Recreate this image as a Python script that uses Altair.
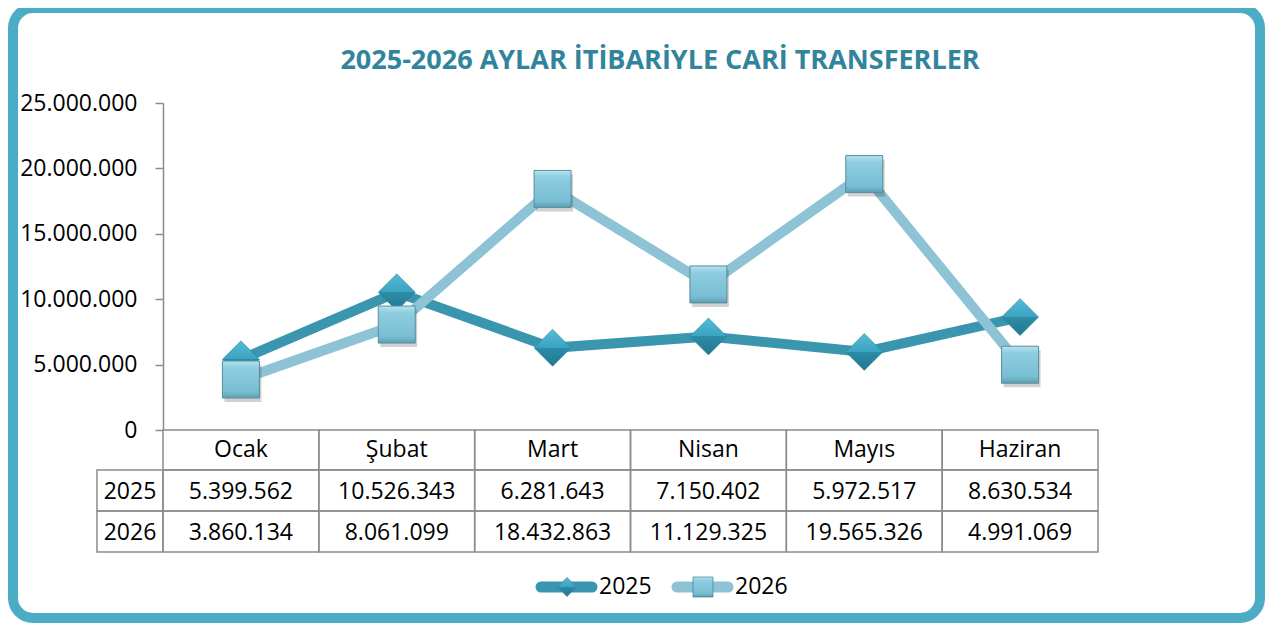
import altair as alt
import pandas as pd

# ---------------- data ----------------
months = ["Ocak", "Şubat", "Mart", "Nisan", "Mayıs", "Haziran"]
years = ["2025", "2026"]
values_2025 = [5399562, 10526343, 6281643, 7150402, 5972517, 8630534]
values_2026 = [3860134, 8061099, 18432863, 11129325, 19565326, 4991069]
y_ticks = [0, 5000000, 10000000, 15000000, 20000000, 25000000]
title_text = ["2025-2026 AYLAR İTİBARİYLE CARİ TRANSFERLER"]


def tr(v):
    return f"{v:,}".replace(",", ".")


rows = []
for yr, vals in zip(years, [values_2025, values_2026]):
    for m, v in zip(months, vals):
        rows.append({"month": m, "year": yr, "value": v, "label": tr(v)})
df = pd.DataFrame(rows)
df_months = pd.DataFrame({"month": months})

# ---------------- style ----------------
W, H = 935, 327
FONT = "Open Sans"
C_FRAME = "#4BACC6"
C_TITLE = "#31849B"
C25 = "#3A96AF"
C26 = "#8DC3D5"
GRID = "#8C8C8C"
ROW_H = [40, 41, 41]

xscale = alt.Scale(type="band", domain=months, paddingInner=0, paddingOuter=0)


def xb():
    return alt.X("month:N", sort=months, scale=xscale, axis=None, bandPosition=0.5)


def xr():
    return alt.X("month:N", sort=months, scale=xscale, axis=None)


yaxis = alt.Axis(
    values=y_ticks,
    labelExpr="replace(replace(format(datum.value, ','), ',', '.'), ',', '.')",
    labelFont=FONT, labelFontSize=23, labelColor="#000000", labelPadding=18,
    domainColor=GRID, domainWidth=1.5, tickColor=GRID, tickWidth=1.5, tickSize=8,
    grid=False, title=None,
)
yscale = alt.Scale(domain=[0, 25000000], nice=False, zero=True)


def yq():
    return alt.Y("value:Q", scale=yscale, axis=yaxis)


layers = []

# frame
layers.append(
    alt.Chart(pd.DataFrame({"k": [0]})).mark_rect(
        fillOpacity=0, stroke=C_FRAME, strokeWidth=10, cornerRadius=20
    ).encode(x=alt.value(-150), x2=alt.value(1097), y=alt.value(-95), y2=alt.value(515))
)

# title
layers.append(
    alt.Chart(pd.DataFrame({"t": title_text})).mark_text(
        font=FONT, fontSize=27, fontWeight="bold", color=C_TITLE,
        align="center", baseline="alphabetic"
    ).encode(text="t:N", x=alt.value(497), y=alt.value(-34))
)

# table grid
y0 = H
layers.append(
    alt.Chart(df_months).mark_rect(fillOpacity=0, stroke=GRID, strokeWidth=1.5)
    .encode(x=xr(), y=alt.value(y0), y2=alt.value(y0 + ROW_H[0]))
)
layers.append(
    alt.Chart(df_months).mark_text(font=FONT, fontSize=23, color="#000000", baseline="middle")
    .encode(x=xb(), y=alt.value(y0 + ROW_H[0] / 2), text="month:N")
)
top = y0 + ROW_H[0]
for i, yr in enumerate(years):
    h = ROW_H[i + 1]
    sub = alt.Chart(df).transform_filter(alt.datum.year == yr)
    layers.append(
        sub.mark_rect(fillOpacity=0, stroke=GRID, strokeWidth=1.5)
        .encode(x=xr(), y=alt.value(top), y2=alt.value(top + h))
    )
    layers.append(
        sub.mark_text(font=FONT, fontSize=23, color="#000000", baseline="middle")
        .encode(x=xb(), y=alt.value(top + h / 2 + 1), text="label:N")
    )
    ydf = pd.DataFrame({"year": [yr]})
    layers.append(
        alt.Chart(ydf).mark_rect(fillOpacity=0, stroke=GRID, strokeWidth=1.5)
        .encode(x=alt.value(-66), x2=alt.value(0), y=alt.value(top), y2=alt.value(top + h))
    )
    layers.append(
        alt.Chart(ydf).mark_text(font=FONT, fontSize=23, color="#000000", baseline="middle")
        .encode(x=alt.value(-33), y=alt.value(top + h / 2 + 1), text="year:N")
    )
    top += h

# lines
layers.append(
    alt.Chart(df).transform_filter(alt.datum.year == "2025")
    .mark_line(color=C25, strokeWidth=10)
    .encode(x=xb(), y=yq())
)
layers.append(
    alt.Chart(df).transform_filter(alt.datum.year == "2026")
    .mark_line(color=C26, strokeWidth=10)
    .encode(x=xb(), y=yq())
)

grad_d = alt.LinearGradient(
    gradient="linear", x1=0, x2=0, y1=0, y2=1,
    stops=[
        alt.GradientStop(color="#55BCD7", offset=0),
        alt.GradientStop(color="#3AA3C0", offset=0.5),
        alt.GradientStop(color="#2C8CA8", offset=0.5),
        alt.GradientStop(color="#23778F", offset=1),
    ],
)
grad_s = alt.LinearGradient(
    gradient="linear", x1=0, x2=0, y1=0, y2=1,
    stops=[
        alt.GradientStop(color="#B5E4F1", offset=0),
        alt.GradientStop(color="#8FCDE0", offset=0.18),
        alt.GradientStop(color="#78BED3", offset=0.82),
        alt.GradientStop(color="#5E9FB2", offset=1),
    ],
)

# markers
layers.append(
    alt.Chart(df).transform_filter(alt.datum.year == "2025")
    .mark_point(shape="diamond", size=1369, filled=True, fill=grad_d, opacity=1,
                stroke="#2A7F98", strokeWidth=0.5)
    .encode(x=xb(), y=yq())
)
layers.append(
    alt.Chart(df).transform_filter(alt.datum.year == "2026")
    .mark_point(shape="square", size=1369, filled=True, color="#000000", opacity=0.18,
                xOffset=2, yOffset=4)
    .encode(x=xb(), y=yq())
)
layers.append(
    alt.Chart(df).transform_filter(alt.datum.year == "2026")
    .mark_point(shape="square", size=1369, filled=True, fill=grad_s, opacity=1,
                stroke="#5A8C9C", strokeWidth=1)
    .encode(x=xb(), y=yq())
)

# legend
LEG_Y = 484
leg = [("2025", C25, "diamond", 361, grad_d, 378, 429, 404, 436),
       ("2026", C26, "square", 400, grad_s, 514, 565, 540, 572)]
for name, col, shp, sz, gr, xa, xz, xm, xt in leg:
    ld = pd.DataFrame({"year": [name]})
    layers.append(
        alt.Chart(ld).mark_rule(color=col, strokeWidth=11, strokeCap="round")
        .encode(x=alt.value(xa), x2=alt.value(xz), y=alt.value(LEG_Y))
    )
    layers.append(
        alt.Chart(ld).mark_point(shape=shp, size=sz, filled=True, fill=gr, opacity=1,
                                 stroke="#3E7F92", strokeWidth=0.7)
        .encode(x=alt.value(xm), y=alt.value(LEG_Y))
    )
    layers.append(
        alt.Chart(ld).mark_text(font=FONT, fontSize=23, color="#000000",
                                align="left", baseline="middle")
        .encode(x=alt.value(xt), y=alt.value(LEG_Y), text="year:N")
    )

chart = alt.layer(*layers).properties(
    width=W, height=H,
    padding={"left": 155, "top": 95, "right": 175, "bottom": 195},
    autosize=alt.AutoSizeParams(type="none"),
).configure_view(stroke=None)

chart.save("out.html", embed_options={"renderer": "svg", "actions": False})
